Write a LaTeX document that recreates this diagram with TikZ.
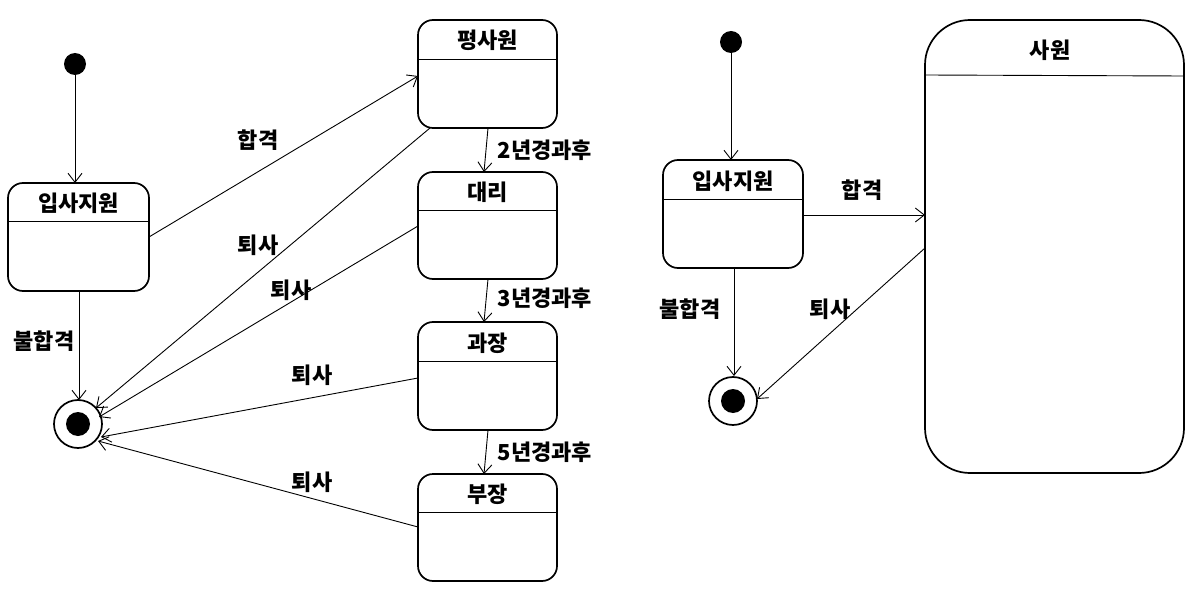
\documentclass[tikz,border=0pt]{standalone}
\usepackage{fontspec}
\setmainfont{Noto Sans CJK KR}
\usetikzlibrary{arrows.meta}
\begin{document}
\begin{tikzpicture}[x=1pt,y=-1pt,
  lbl/.style={font=\fontsize{22}{24}\selectfont\bfseries, inner sep=0pt},
  tr/.style={line width=0.9pt, -{Straight Barb[length=9pt,width=14pt,line width=0.9pt]}},
  st/.style={draw, line width=1.7pt, rounded corners=15pt},
  dv/.style={line width=0.9pt}]
\useasboundingbox (0,0) rectangle (1197,591);
% ---------- left diagram ----------
\fill (75,64) circle (11);
\draw[line width=1.7pt] (78,424) circle (24);
\fill (78,424) circle (12);
\newcommand{\mystate}[6]{% name, x1,y1,x2,y2, divider
  \draw[st] (#2,#3) rectangle (#4,#5);
  \draw[dv] (#2,#6) -- (#4,#6);
}
\mystate{a1}{8}{183}{149}{291}{221}
\node[lbl] (a1t) at (78.5,203) {입사지원};
\mystate{p}{418}{20}{557}{128}{59}
\node[lbl] (pt) at (487.5,40) {평사원};
\mystate{d}{418}{172}{557}{279}{210}
\node[lbl] (dt) at (487.5,192) {대리};
\mystate{g}{418}{322}{557}{430}{361}
\node[lbl] (gt) at (487.5,343) {과장};
\mystate{b}{418}{474}{557}{581}{512}
\node[lbl] (bt) at (487.5,494) {부장};
% transitions
\draw[tr] (75,75) -- (75,183);
\draw[tr] (79,291) -- (79,400);
\node[lbl] (l1) at (44,341) {불합격};
\draw[tr] (149,237) -- (418,76);
\node[lbl] (l2) at (258,140) {합격};
\draw[tr] (430,128) -- (96,408);
\node[lbl] (l3) at (258,245) {퇴사};
\draw[tr] (418,226) -- (99,417);
\node[lbl] (l4) at (291,290) {퇴사};
\draw[tr] (418,378) -- (101,437);
\node[lbl] (l5) at (312,375) {퇴사};
\draw[tr] (418,527) -- (98,441);
\node[lbl] (l6) at (312,482) {퇴사};
\draw[tr] (488,128) -- (484,172);
\node[lbl] (l7) at (545,150) {2년경과후};
\draw[tr] (488,279) -- (484,322);
\node[lbl] (l8) at (545,298) {3년경과후};
\draw[tr] (488,430) -- (484,474);
\node[lbl] (l9) at (545,452) {5년경과후};
% ---------- right diagram ----------
\fill (731,42) circle (11);
\draw[line width=1.7pt] (733,401) circle (24);
\fill (733,401) circle (12);
\mystate{a2}{663}{160}{803}{268}{199}
\node[lbl] (a2t) at (733,181) {입사지원};
\draw[line width=1.7pt, rounded corners=45pt] (925,20) rectangle (1184,473);
\draw[dv] (925,75) -- (1184,76);
\node[lbl] (st) at (1050,50) {사원};
\draw[tr] (731,53) -- (731,160);
\draw[tr] (734,268) -- (734,376);
\node[lbl] (r1) at (690,309) {불합격};
\draw[tr] (803,215) -- (925,215);
\node[lbl] (r2) at (862,190) {합격};
\draw[tr] (925,248) -- (757,399);
\node[lbl] (r3) at (830,309) {퇴사};
\end{tikzpicture}
\end{document}
